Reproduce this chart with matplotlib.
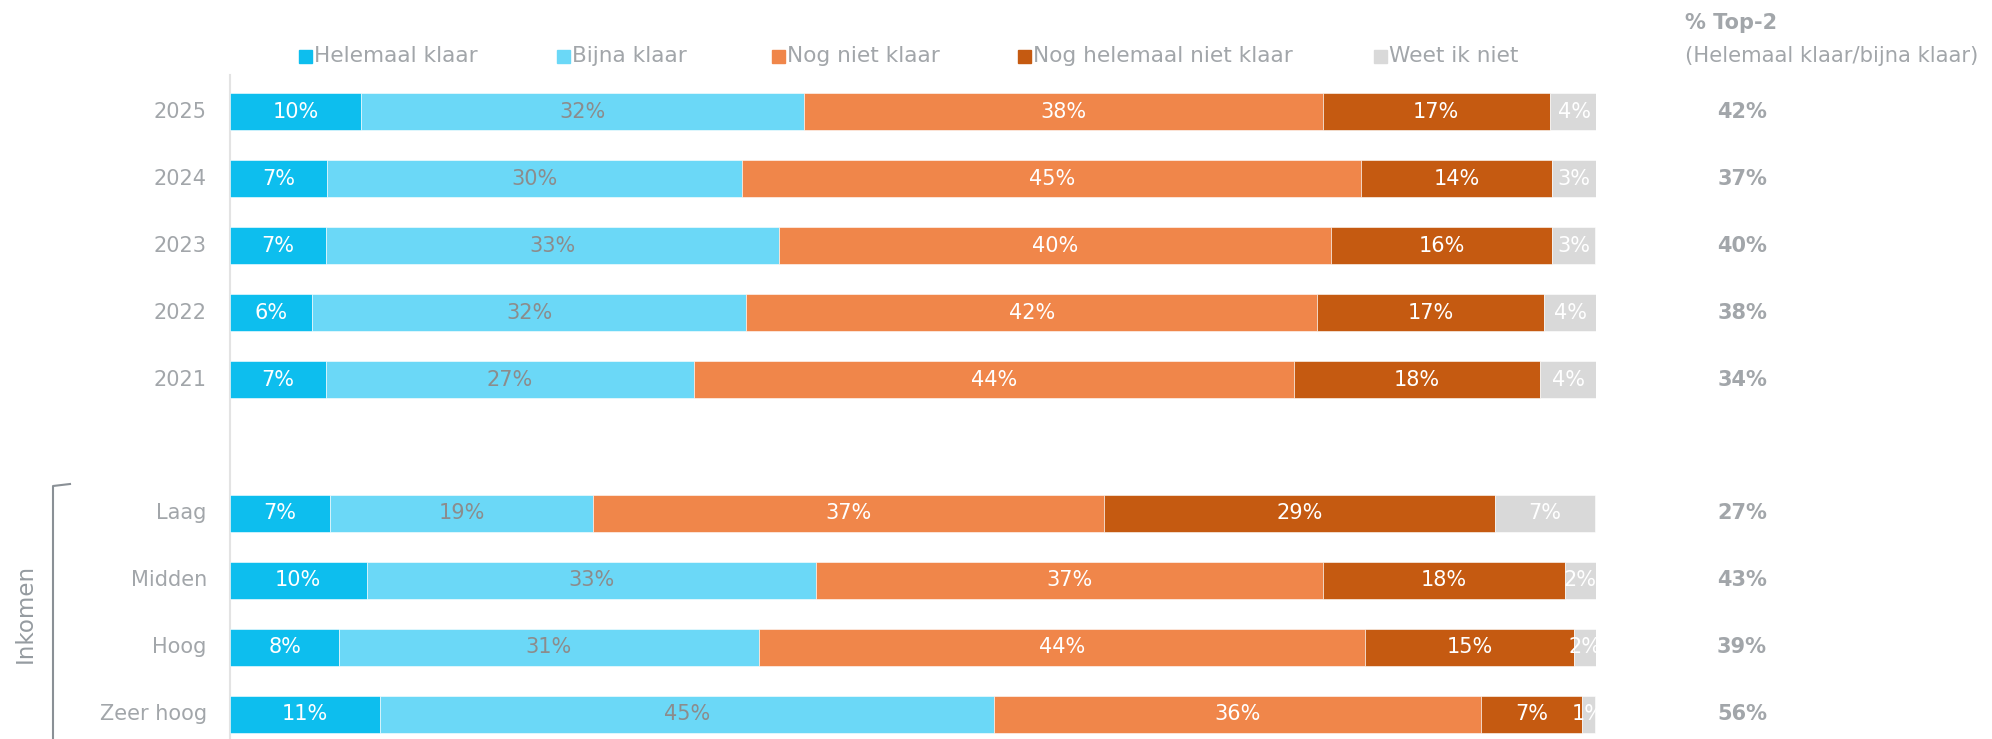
import matplotlib.pyplot as plt
import matplotlib.transforms as mtransforms
from matplotlib.patches import Rectangle

# data (percent per segment)
rows = ['2025', '2024', '2023', '2022', '2021', '', 'Laag', 'Midden', 'Hoog', 'Zeer hoog']
series = ['Helemaal klaar', 'Bijna klaar', 'Nog niet klaar', 'Nog helemaal niet klaar', 'Weet ik niet']
helemaal = [9.6, 7.1, 7.0, 6.0, 7.0, None, 7.3, 10.0, 8.0, 11.0]
bijna = [32.4, 30.4, 33.2, 31.8, 27.0, None, 19.3, 32.9, 30.7, 44.9]
nog_niet = [38.0, 45.3, 40.4, 41.8, 43.9, None, 37.4, 37.1, 44.4, 35.7]
nog_helemaal = [16.6, 14.0, 16.2, 16.6, 18.0, None, 28.6, 17.7, 15.3, 7.4]
weet_niet = [3.6, 3.2, 3.1, 3.8, 4.2, None, 7.3, 2.3, 1.6, 0.9]
top2 = [42, 37, 40, 38, 34, None, 27, 43, 39, 56]

colors = ['#0DBEEE', '#6BD8F7', '#F0864A', '#C55A11', '#D9D9D9']
label_colors = ['white', '#8C8C8C', 'white', 'white', 'white']
gray = '#A2A6AA'

W, H = 1992, 739
plt.rcParams['font.family'] = ['DejaVu Sans']

fig = plt.figure(figsize=(W / 100, H / 100), dpi=100)
ax = fig.add_axes([230 / W, 0, (1596 - 230) / W, 1])
ax.set_xlim(0, 100)
ax.set_ylim(9.37, -1.67)
ax.axis('off')

data = [helemaal, bijna, nog_niet, nog_helemaal, weet_niet]
for i, name in enumerate(rows):
    if helemaal[i] is None:
        continue
    left = 0
    for k, vals in enumerate(data):
        v = vals[i]
        ax.barh(i, v, left=left, height=0.55, color=colors[k], edgecolor='white', linewidth=0.4)
        ax.text(left + v / 2, i, f'{v:.0f}%', ha='center', va='center',
                fontsize=15, color=label_colors[k])
        left += v
    ax.text(-1.7, i, name, ha='right', va='center', fontsize=15, color=gray)

# light axis line on the left
ax.plot([0, 0], [-0.55, 9.37], color='#E3E3E3', lw=1.5, zorder=0, clip_on=False)

# top-2 column
tr = mtransforms.blended_transform_factory(fig.transFigure, ax.transData)
for i, v in enumerate(top2):
    if v is None:
        continue
    ax.text(1742 / W, i, f'{v}%', transform=tr, ha='center', va='center',
            fontsize=15, fontweight='bold', color=gray)

fig.text(1685 / W, 1 - 23 / H, '% Top-2', ha='left', va='center', fontsize=15,
         fontweight='bold', color=gray)
fig.text(1685 / W, 1 - 56 / H, '(Helemaal klaar/bijna klaar)', ha='left', va='center',
         fontsize=15.2, color=gray)

# legend
legend_x = [299, 557, 772, 1018, 1374]
for k, name in enumerate(series):
    x = legend_x[k]
    fig.patches.append(Rectangle((x / W, 1 - 63 / H), 13 / W, 13 / H,
                                 transform=fig.transFigure, color=colors[k]))
    fig.text((x + 15) / W, 1 - 56 / H, name, ha='left', va='center', fontsize=15.6, color=gray)

# Inkomen bracket
fig.lines.append(plt.Line2D([70 / W, 53 / W, 53 / W], [1 - 484 / H, 1 - 486 / H, 0],
                            transform=fig.transFigure, color='#8A9096', lw=1.5))
fig.text(25 / W, 1 - 613 / H, 'Inkomen', rotation=90, ha='center', va='center',
         fontsize=16.5, color='#959BA0')

fig.savefig('out.png', dpi=100)
